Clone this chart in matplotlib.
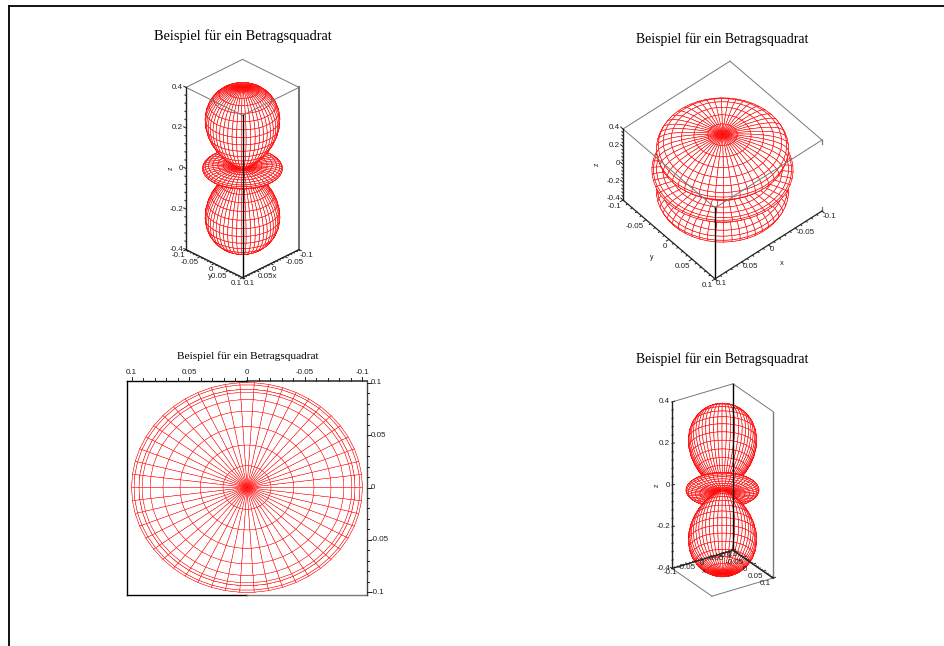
import numpy as np
import matplotlib
matplotlib.use('Agg')
import matplotlib.pyplot as plt
from matplotlib.lines import Line2D
from mpl_toolkits.mplot3d import proj3d

W, H = 945, 646

# profile: polar angle (deg) and radius, pole down to the waist
theta_deg = [0, 3, 6, 9, 12, 15, 18, 21, 24, 27, 30, 33, 36, 39, 42, 45,
             48, 51, 54, 57, 60, 63, 66, 69, 72, 75, 78, 81, 84, 87, 90]
radius = [0.400, 0.397, 0.387, 0.371, 0.350, 0.324, 0.294, 0.261, 0.226, 0.191, 0.156, 0.123,
          0.093, 0.066, 0.043, 0.025, 0.012, 0.004, 0.0, 0.001, 0.006, 0.015, 0.025, 0.038,
          0.051, 0.064, 0.076, 0.086, 0.094, 0.098, 0.100]
n_meridians = 50

title = 'Beispiel für ein Betragsquadrat'
xy_ticks = [-0.1, -0.05, 0, 0.05, 0.1]
xy_minor = [-0.09, -0.08, -0.07, -0.06, -0.04, -0.03, -0.02, -0.01,
            0.01, 0.02, 0.03, 0.04, 0.06, 0.07, 0.08, 0.09]
z_ticks = [-0.4, -0.2, 0, 0.2, 0.4]
z_minor = [-0.36, -0.32, -0.28, -0.24, -0.16, -0.12, -0.08, -0.04,
           0.04, 0.08, 0.12, 0.16, 0.24, 0.28, 0.32, 0.36]
xy_labels = ['-0.1', '-0.05', '0', '0.05', '0.1']
z_labels = ['-0.4', '-0.2', '0', '0.2', '0.4']
flat_y_labels = ['0.1', '0.05', '0', '-0.05', '-0.1']

DARK = '#222222'
GREY = '#777777'

fig = plt.figure(figsize=(W / 100, H / 100), dpi=100)
fig.add_artist(Line2D([9 / W, 9 / W], [0, 1 - 6 / H], color='black', lw=1.3))
fig.add_artist(Line2D([9 / W, 1], [1 - 6 / H, 1 - 6 / H], color='black', lw=1.3))


def surface():
    th = np.radians(theta_deg + [180 - t for t in theta_deg[-2::-1]])
    r = np.array(radius + radius[-2::-1])
    ph = np.linspace(0, 2 * np.pi, n_meridians + 1)
    X = np.outer(r * np.sin(th), np.cos(ph))
    Y = np.outer(r * np.sin(th), np.sin(ph))
    Z = np.outer(r * np.cos(th), np.ones_like(ph))
    return X, Y, Z


def project(ax, xs, ys, zs):
    px, py, _ = proj3d.proj_transform(np.array(xs, float), np.array(ys, float), np.array(zs, float), ax.get_proj())
    return px, py


def box_extent(ax, xlim, ylim):
    xs, ys, zs = [], [], []
    for a in xlim:
        for b in ylim:
            for c in (-0.4, 0.4):
                xs.append(a)
                ys.append(b)
                zs.append(c)
    px, py = project(ax, xs, ys, zs)
    d = ax.transData.transform(np.column_stack([px, py]))
    return d[:, 0].min(), d[:, 0].max(), (d[:, 1].min() + d[:, 1].max()) / 2


def set_square(ax, cx, cy, s):
    ax.set_position([(cx - s / 2) / W, cy / H - s / 2 / H, s / W, s / H])
    ax.apply_aspect()


def panel(elev, azim, aspect, cx, cy, width, xlim=(-0.1, 0.1), ylim=(-0.1, 0.1), wire=0.42):
    ax = fig.add_subplot(projection='3d', computed_zorder=False)
    ax.set_proj_type('ortho')
    ax.set_axis_off()
    ax.patch.set_alpha(0)
    ax.set_xlim(*xlim)
    ax.set_ylim(*ylim)
    ax.set_zlim(-0.4, 0.4)
    ax.view_init(elev=elev, azim=azim)
    ax.set_box_aspect(aspect)
    # scale and shift the square axes until the projected box lands on the reference spot
    s = 500.0
    cy = H - cy
    set_square(ax, cx, cy, s)
    x0, x1, _ = box_extent(ax, xlim, ylim)
    s *= width / (x1 - x0)
    set_square(ax, cx, cy, s)
    x0, x1, ym = box_extent(ax, xlim, ylim)
    set_square(ax, cx + cx - (x0 + x1) / 2, cy + cy - ym, s)
    X, Y, Z = surface()
    surf = ax.plot_surface(X, Y, Z, rstride=1, cstride=1, color='white', edgecolor='#ff0000',
                           linewidth=wire, shade=False, zorder=1)
    surf.set_clip_on(False)
    return ax


def edge(ax, a, b, color=DARK, lw=0.8):
    ax.plot([a[0], b[0]], [a[1], b[1]], [a[2], b[2]], color=color, lw=lw, zorder=3, clip_on=False)


def ticks(ax, base, along, values, direction, major, minor, tick_values):
    # values run along axis index "along", from point "base", ticks point along "direction"
    for v in values:
        length = major if v in tick_values else minor
        p = list(base)
        p[along] = v
        q = [p[i] + direction[i] * length for i in range(3)]
        ax.plot([p[0], q[0]], [p[1], q[1]], [p[2], q[2]], color=DARK, lw=0.7, zorder=3, clip_on=False)


def labels(ax, base, along, values, texts, dx, dy, ha='center', rotation=0, size=5.8):
    for v, t in zip(values, texts):
        p = list(base)
        p[along] = v
        px, py = project(ax, [p[0]], [p[1]], [p[2]])
        ax.annotate(t, xy=(px[0], py[0]), xycoords='data', xytext=(dx, dy), textcoords='offset pixels',
                    ha=ha, va='center', fontsize=size, family='Liberation Sans', color='#222222',
                    rotation=rotation, zorder=4)


def heading(x, y, size):
    fig.text(x / W, 1 - y / H, title, ha='center', va='center', fontsize=size,
             family='Liberation Serif', color='black')


# upper left
ax = panel(29.7, 45, (80, 80, 187), 242.5, 168.5, 113)
b, t = -0.4, 0.4
for a, c in [((.1, -.1, t), (-.1, -.1, t)), ((-.1, -.1, t), (-.1, .1, t)),
             ((-.1, .1, t), (.1, .1, t)), ((.1, .1, t), (.1, -.1, t))]:
    edge(ax, a, c, GREY, 0.7)
edge(ax, (.1, -.1, b), (.1, -.1, t), DARK, 1.0)
edge(ax, (-.1, .1, b), (-.1, .1, t), GREY, 1.5)
edge(ax, (.1, .1, b), (.1, .1, t), 'black', 1.0)
edge(ax, (.1, -.1, b), (.1, .1, b), DARK, 1.0)
edge(ax, (-.1, .1, b), (.1, .1, b), DARK, 1.0)
ticks(ax, (.1, 0, b), 1, xy_ticks + xy_minor, (1, 0, 0), 0.008, 0.004, xy_ticks)
ticks(ax, (0, .1, b), 0, xy_ticks + xy_minor, (0, 1, 0), 0.008, 0.004, xy_ticks)
ticks(ax, (.1, -.1, 0), 2, z_ticks + z_minor, (0, -1, 0), 0.008, 0.004, z_ticks)
labels(ax, (.1, 0, b), 1, xy_ticks, ['-0.1', '-0.05', '0', 'y0.05', '0.1'], -1, -6, 'right')
labels(ax, (0, .1, b), 0, xy_ticks, ['-0.1', '-0.05', '0', '0.05x', '0.1'], 1, -6, 'left')
labels(ax, (.1, -.1, 0), 2, z_ticks, z_labels, -3, 0, 'right')
labels(ax, (.1, -.1, 0), 2, [0], ['z'], -15, 0, 'center', rotation=90, size=5)
heading(242.5, 36, 10.3)

# upper right
ax = panel(47.5, 49.3, (141, 141, 105), 722.5, 170, 199)
for a, c in [((.1, -.1, t), (-.1, -.1, t)), ((-.1, -.1, t), (-.1, .1, t)),
             ((-.1, .1, t), (.1, .1, t)), ((.1, .1, t), (.1, -.1, t))]:
    edge(ax, a, c, GREY, 0.7)
edge(ax, (.1, -.1, b), (.1, -.1, t), DARK, 1.0)
edge(ax, (-.1, .1, t), (-.1, .1, 0.36), GREY, 0.9)
edge(ax, (-.1, .1, b), (-.1, .1, -0.36), GREY, 0.9)
edge(ax, (.1, .1, b), (.1, .1, t), 'black', 1.0)
edge(ax, (.1, -.1, b), (.1, .1, b), DARK, 0.9)
edge(ax, (-.1, .1, b), (.1, .1, b), DARK, 0.9)
ticks(ax, (.1, 0, b), 1, xy_ticks + xy_minor, (1, 0, 0), 0.005, 0.0025, xy_ticks)
ticks(ax, (0, .1, b), 0, xy_ticks + xy_minor, (0, 1, 0), 0.005, 0.0025, xy_ticks)
ticks(ax, (.1, -.1, 0), 2, z_ticks + z_minor, (0, -1, 0), 0.005, 0.0025, z_ticks)
labels(ax, (.1, 0, b), 1, xy_ticks, xy_labels, -2, -7, 'right')
labels(ax, (0, .1, b), 0, xy_ticks, xy_labels, 1, -5, 'left')
labels(ax, (.1, -.1, 0), 2, z_ticks, z_labels, -3, 1, 'right')
labels(ax, (.1, -.1, 0), 2, [0], ['z'], -26, 0, 'center', rotation=90, size=5)
labels(ax, (.1, 0, b), 1, [0], ['y'], -17, -18, 'center', size=5)
labels(ax, (0, .1, b), 0, [0], ['x'], 13, -19, 'center', size=5.5)
heading(722.5, 39, 9.9)

# lower left, straight from above
lim3x, lim3y = (-0.104, 0.104), (-0.102, 0.102)
ax = panel(90, 90, (240, 214, 1), 247, 487.5, 240, lim3x, lim3y, wire=0.33)
edge(ax, (0, lim3y[0], t), (lim3x[0], lim3y[0], t), '#555555', 1.4)
edge(ax, (lim3x[1], lim3y[0], t), (0, lim3y[0], t), 'black', 1.0)
edge(ax, (lim3x[1], lim3y[0], t), (lim3x[1], lim3y[1], t), 'black', 1.0)
edge(ax, (lim3x[1], lim3y[1], t), (0, lim3y[1], t), 'black', 1.0)
edge(ax, (0, lim3y[1], t), (lim3x[0], lim3y[1], t), GREY, 1.0)
edge(ax, (lim3x[0], lim3y[0], t), (lim3x[0], lim3y[1], t), '#444444', 1.0)
ticks(ax, (0, lim3y[0], t), 0, xy_ticks + xy_minor, (0, -1, 0), 0.0035, 0.002, xy_ticks)
ticks(ax, (lim3x[0], 0, t), 1, xy_ticks + xy_minor, (-1, 0, 0), 0.0035, 0.002, xy_ticks)
labels(ax, (0, lim3y[0], t), 0, xy_ticks, xy_labels, 0, 8)
labels(ax, (lim3x[0], 0, t), 1, xy_ticks, flat_y_labels, 4, 0, 'left')
heading(247.5, 356, 8.2)

# lower right, from below
ax = panel(-27, -56.8, (73, 73, 187), 722.5, 490, 101)
edge(ax, (-.1, -.1, t), (.1, -.1, t), GREY, 0.7)
edge(ax, (.1, -.1, t), (.1, .1, t), GREY, 0.7)
edge(ax, (-.1, -.1, b), (-.1, .1, b), GREY, 0.7)
edge(ax, (-.1, .1, b), (.1, .1, b), GREY, 0.7)
edge(ax, (-.1, -.1, b), (-.1, -.1, t), DARK, 1.0)
edge(ax, (.1, -.1, b), (.1, -.1, t), 'black', 1.0)
edge(ax, (.1, .1, b), (.1, .1, t), GREY, 1.0)
edge(ax, (-.1, -.1, b), (.1, -.1, b), DARK, 1.0)
edge(ax, (.1, -.1, b), (.1, .1, b), DARK, 1.0)
ticks(ax, (0, -.1, b), 0, xy_ticks + xy_minor, (0, -1, 0), 0.008, 0.004, xy_ticks)
ticks(ax, (.1, 0, b), 1, xy_ticks + xy_minor, (1, 0, 0), 0.008, 0.004, xy_ticks)
ticks(ax, (-.1, -.1, 0), 2, z_ticks + z_minor, (1, 0, 0), 0.008, 0.004, z_ticks)
labels(ax, (0, -.1, b), 0, xy_ticks, xy_labels, -1, -4)
labels(ax, (.1, 0, b), 1, xy_ticks, xy_labels, -8, -5)
labels(ax, (0, -.1, b), 0, [0], ['x'], 1, -12, size=5.5)
labels(ax, (-.1, -.1, 0), 2, z_ticks, z_labels, -2, 0, 'right')
labels(ax, (-.1, -.1, 0), 2, [0], ['z'], -15, 0, 'center', rotation=90, size=5)
heading(722.5, 359, 9.9)

fig.savefig('out.png', dpi=100)
